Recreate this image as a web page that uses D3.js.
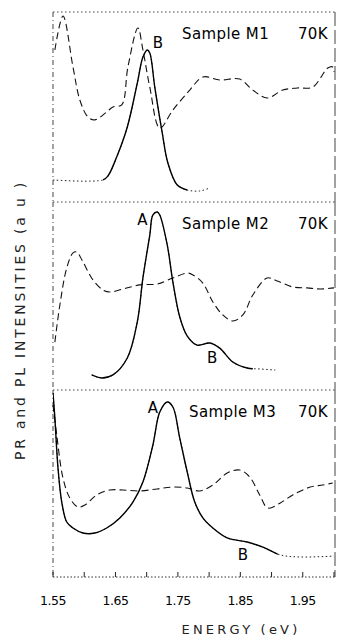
<!DOCTYPE html>
<html>
<head>
<meta charset="utf-8">
<script src="https://cdn.jsdelivr.net/npm/d3@7/dist/d3.min.js"></script>
<style>
    body { margin: 0; background: #fff; }
    svg { display: block; font-family: "DejaVu Sans", sans-serif; }
</style>
</head>
<body>
<svg id="chart"></svg>
<script>
// energy axis (eV)
const energyTicks = [1.55, 1.60, 1.65, 1.70, 1.75, 1.80, 1.85, 1.90, 1.95, 2.00];
const energyLabels = [1.55, 1.65, 1.75, 1.85, 1.95];
const sampleNames = ['Sample M1', 'Sample M2', 'Sample M3'];
const temperature = '70K';

// [energy, intensity (a.u., 0-100 inside each panel)]
const m1PR = [
    [1.553, 80.0], [1.566, 97.9], [1.582, 71.1], [1.593, 53.7], [1.606, 44.7],
    [1.617, 43.2], [1.636, 47.4], [1.646, 50.0], [1.660, 51.1], [1.670, 71.1],
    [1.686, 91.6], [1.694, 80.0], [1.705, 60.5], [1.721, 38.9], [1.742, 48.4],
    [1.769, 58.9], [1.790, 65.8], [1.817, 64.2], [1.849, 64.7], [1.870, 58.9],
    [1.893, 54.7], [1.918, 58.9], [1.941, 60.0], [1.966, 60.5], [1.990, 70.5],
    [1.998, 71.1], [2.000, 68.4]
];
const m1PL = [
    [1.550, 11.6], [1.630, 11.6], [1.638, 13.7], [1.652, 23.7], [1.669, 39.5],
    [1.685, 62.6], [1.694, 76.3], [1.701, 80.0], [1.705, 78.4], [1.713, 60.5],
    [1.725, 36.3], [1.734, 20.5], [1.749, 8.9], [1.765, 6.3], [1.785, 5.8],
    [1.801, 7.4]
];
const m2PR = [
    [1.553, 25.5], [1.561, 45.2], [1.572, 64.9], [1.582, 72.9], [1.588, 73.4],
    [1.598, 68.1], [1.614, 58.5], [1.630, 53.2], [1.641, 52.1], [1.662, 53.7],
    [1.689, 55.9], [1.717, 56.4], [1.742, 59.6], [1.765, 62.2], [1.774, 61.2],
    [1.790, 56.9], [1.806, 46.8], [1.822, 39.9], [1.838, 36.7], [1.854, 39.9],
    [1.870, 50.5], [1.893, 59.6], [1.909, 58.0], [1.934, 54.8], [1.957, 54.3],
    [1.978, 53.7], [2.000, 54.3]
];
const m2PL = [
    [1.612, 8.0], [1.628, 6.4], [1.646, 8.0], [1.669, 17.0], [1.685, 36.2],
    [1.694, 59.6], [1.705, 82.4], [1.710, 93.1], [1.717, 94.7], [1.721, 93.1],
    [1.733, 77.1], [1.742, 57.4], [1.753, 38.8], [1.765, 28.7], [1.781, 23.9],
    [1.801, 25.0], [1.817, 22.3], [1.838, 14.9], [1.861, 11.7], [1.881, 11.2],
    [1.906, 10.6]
];
const m3PR = [
    [1.550, 92.0], [1.556, 75.9], [1.566, 52.9], [1.577, 42.2], [1.590, 37.4],
    [1.601, 38.5], [1.620, 43.9], [1.641, 46.5], [1.662, 46.5], [1.689, 46.0],
    [1.717, 47.1], [1.742, 48.1], [1.765, 47.6], [1.785, 46.0], [1.806, 49.2],
    [1.829, 55.6], [1.849, 57.2], [1.865, 53.5], [1.881, 43.9], [1.894, 36.9],
    [1.914, 39.6], [1.934, 43.9], [1.962, 48.1], [1.982, 49.2], [1.998, 50.3]
];
const m3PL = [
    [1.550, 98.4], [1.553, 85.0], [1.558, 58.3], [1.564, 40.1], [1.572, 29.4],
    [1.582, 26.2], [1.598, 23.5], [1.617, 23.5], [1.636, 26.2], [1.657, 31.6],
    [1.678, 40.1], [1.694, 50.8], [1.710, 70.6], [1.721, 88.2], [1.733, 93.6],
    [1.742, 90.9], [1.753, 74.3], [1.765, 56.1], [1.777, 40.1], [1.790, 31.6],
    [1.806, 26.2], [1.829, 20.9], [1.861, 18.7], [1.886, 16.0], [1.914, 11.8],
    [1.946, 10.7], [2.000, 11.2]
];
// energy range where each PL trace is drawn solid (dotted outside)
const plSolidRanges = [[1.630, 1.765], [1.600, 1.870], [1.550, 1.910]];

// peak labels: [panel, text, energy, intensity]
const peakLabels = [
    [0, 'B', 1.718, 83.7],
    [1, 'A', 1.693, 90.4],
    [1, 'B', 1.805, 17.0],
    [2, 'A', 1.710, 90.4],
    [2, 'B', 1.854, 11.8]
];

const prSeries = [m1PR, m2PR, m3PR];
const plSeries = [m1PL, m2PL, m3PL];

const width = 337, height = 641;
const left = 53, right = 334;
const panelEdges = [12, 202, 390, 577];

const svg = d3.select('#chart')
    .attr('width', width)
    .attr('height', height);

const x = d3.scaleLinear().domain([1.55, 2.00]).range([left, right]);

sampleNames.forEach((name, i) => {
    const top = panelEdges[i], bottom = panelEdges[i + 1];
    const y = d3.scaleLinear().domain([0, 100]).range([bottom, top]);
    const g = svg.append('g');

    // frame
    g.append('line')
        .attr('x1', left).attr('x2', right + 1)
        .attr('y1', top).attr('y2', top)
        .attr('stroke', '#444').attr('stroke-width', 1)
        .attr('stroke-dasharray', '1.5,2.5');
    g.append('line')
        .attr('x1', left).attr('x2', left)
        .attr('y1', top).attr('y2', bottom)
        .attr('stroke', '#444').attr('stroke-width', 1)
        .attr('stroke-dasharray', '5,3,1,3');
    g.append('line')
        .attr('x1', right + 1).attr('x2', right + 1)
        .attr('y1', top).attr('y2', bottom)
        .attr('stroke', '#444').attr('stroke-width', 1)
        .attr('stroke-dasharray', '14,4');

    const line = d3.line()
        .x(d => x(d[0]))
        .y(d => y(d[1]))
        .curve(d3.curveCatmullRom.alpha(0.5));

    // PR trace, dashed
    g.append('path')
        .attr('d', line(prSeries[i]))
        .attr('fill', 'none')
        .attr('stroke', '#111')
        .attr('stroke-width', 1.1)
        .attr('stroke-dasharray', '7,4');

    // PL trace: dotted tails, solid core
    const clipId = 'clip' + i;
    const r = plSolidRanges[i];
    svg.append('clipPath').attr('id', clipId)
        .append('rect')
        .attr('x', x(r[0])).attr('y', top - 5)
        .attr('width', x(r[1]) - x(r[0])).attr('height', bottom - top + 10);

    g.append('path')
        .attr('d', line(plSeries[i]))
        .attr('fill', 'none')
        .attr('stroke', '#222')
        .attr('stroke-width', 1)
        .attr('stroke-dasharray', '1.5,2.5');
    g.append('path')
        .attr('d', line(plSeries[i]))
        .attr('clip-path', `url(#${clipId})`)
        .attr('fill', 'none')
        .attr('stroke', '#000')
        .attr('stroke-width', 1.4);

    // sample and temperature labels
    g.append('text')
        .attr('x', i === 2 ? 189 : 182)
        .attr('y', top + 22)
        .attr('dominant-baseline', 'central')
        .attr('font-size', 15)
        .attr('letter-spacing', 0.4)
        .text(name);
    g.append('text')
        .attr('x', 328)
        .attr('y', top + 22)
        .attr('text-anchor', 'end')
        .attr('dominant-baseline', 'central')
        .attr('font-size', 15)
        .attr('letter-spacing', 0.4)
        .text(temperature);

    peakLabels.filter(p => p[0] === i).forEach(p => {
        g.append('text')
            .attr('x', x(p[2]))
            .attr('y', y(p[3]))
            .attr('text-anchor', 'middle')
            .attr('dominant-baseline', 'central')
            .attr('font-size', 15)
            .text(p[1]);
    });
});

// bottom energy axis
const axisY = panelEdges[3];
svg.append('line')
    .attr('x1', left).attr('x2', right + 1)
    .attr('y1', axisY).attr('y2', axisY)
    .attr('stroke', '#333').attr('stroke-width', 1)
    .attr('stroke-dasharray', '1.5,2');

svg.append('g')
    .selectAll('line')
    .data(energyTicks)
    .enter()
    .append('line')
    .attr('x1', d => x(d)).attr('x2', d => x(d))
    .attr('y1', axisY).attr('y2', axisY - 5)
    .attr('stroke', '#222').attr('stroke-width', 1);

svg.append('g')
    .selectAll('text')
    .data(energyLabels)
    .enter()
    .append('text')
    .attr('x', d => x(d))
    .attr('y', 600)
    .attr('text-anchor', 'middle')
    .attr('dominant-baseline', 'central')
    .attr('font-size', 12.5)
    .attr('letter-spacing', -0.5)
    .text(d => d.toFixed(2));

svg.append('text')
    .attr('x', 241)
    .attr('y', 629)
    .attr('text-anchor', 'middle')
    .attr('dominant-baseline', 'central')
    .attr('font-size', 13)
    .attr('letter-spacing', 3.2)
    .attr('fill', '#222')
    .text('ENERGY (eV)');

svg.append('text')
    .attr('transform', 'translate(20,320) rotate(-90)')
    .attr('text-anchor', 'middle')
    .attr('dominant-baseline', 'central')
    .attr('font-size', 14)
    .attr('letter-spacing', 2.8)
    .attr('fill', '#222')
    .text('PR and PL INTENSITIES (a u )');
</script>
</body>
</html>
